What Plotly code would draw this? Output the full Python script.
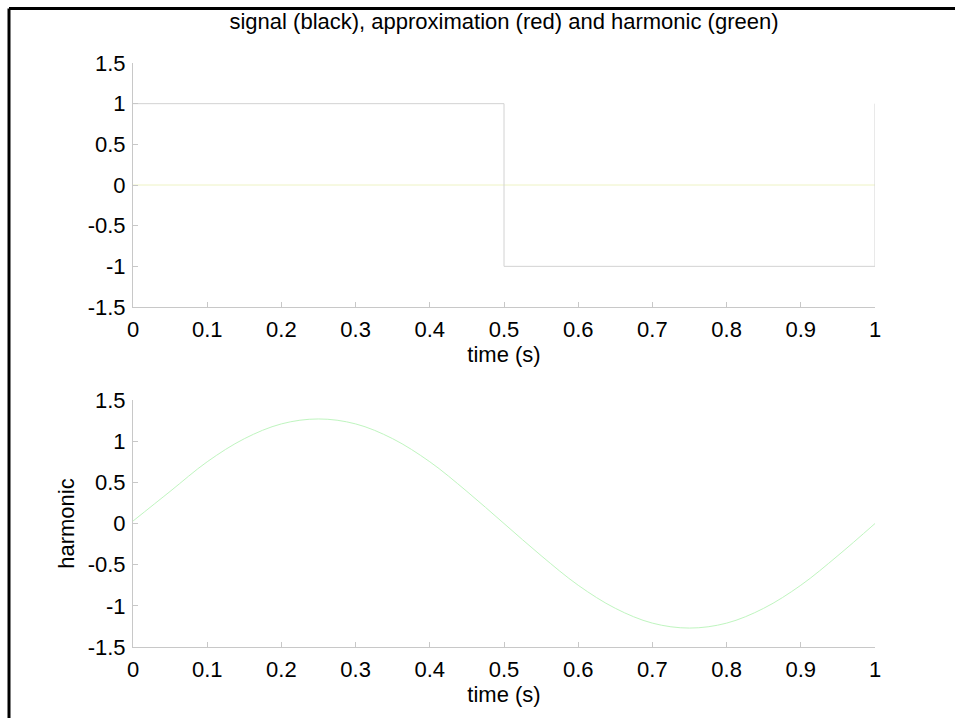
import plotly.graph_objects as go

# Top panel: signal (square wave) and zero lines
sig_t = [0.0, 0.5, 0.5, 1.0, 1.0]
sig_y = [1.0, 1.0, -1.0, -1.0, 1.0]
zero_t = [0.0, 1.0]
zero_y = [0.0, 0.0]

# Bottom panel: harmonic
harm_t = [0.0, 0.05, 0.1, 0.15, 0.2, 0.25, 0.3, 0.35, 0.4, 0.45, 0.5,
          0.55, 0.6, 0.65, 0.7, 0.75, 0.8, 0.85, 0.9, 0.95, 1.0]
harm_y = [0.03, 0.39, 0.75, 1.03, 1.21, 1.27, 1.21, 1.03, 0.75, 0.39, 0.0,
          -0.39, -0.75, -1.03, -1.21, -1.27, -1.21, -1.03, -0.75, -0.39, 0.0]

x_ticks = [0, 0.1, 0.2, 0.3, 0.4, 0.5, 0.6, 0.7, 0.8, 0.9, 1]
x_labels = ["0", "0.1", "0.2", "0.3", "0.4", "0.5", "0.6", "0.7", "0.8", "0.9", "1"]
y_ticks = [-1.5, -1, -0.5, 0, 0.5, 1, 1.5]
y_labels = ["-1.5", "-1", "-0.5", "0", "0.5", "1", "1.5"]

FONT = "Liberation Sans, Arial, Helvetica, sans-serif"
FS = 22
AX = "#c8c8c8"

fig = go.Figure()
fig.add_trace(go.Scatter(x=zero_t, y=zero_y, mode="lines",
                         line=dict(color="#eef3c4", width=1), xaxis="x", yaxis="y"))
fig.add_trace(go.Scatter(x=sig_t, y=sig_y, mode="lines",
                         line=dict(color="#d2d2d2", width=1), xaxis="x", yaxis="y"))
fig.add_trace(go.Scatter(x=harm_t, y=harm_y, mode="lines", line_shape="spline",
                         line=dict(color="#bff5bf", width=1), xaxis="x2", yaxis="y2"))

axis_common = dict(showgrid=False, zeroline=False, showline=True, linecolor=AX,
                   linewidth=1, ticks="inside", ticklen=5, tickcolor=AX,
                   tickfont=dict(family=FONT, size=FS, color="black"), mirror=False)

xcommon = dict(ticklabelstandoff=3, **axis_common)
ycommon = dict(ticklabelstandoff=2, **axis_common)

fig.update_layout(
    width=955, height=718,
    margin=dict(l=133, r=80, t=63, b=71),
    paper_bgcolor="white", plot_bgcolor="white",
    showlegend=False,
    font=dict(family=FONT, size=FS, color="black"),
    title=dict(text="signal (black), approximation (red) and harmonic (green)",
               x=0.5, xanchor="center", xref="paper", y=1 - 21 / 718, yanchor="middle",
               font=dict(family=FONT, size=FS, color="black")),
    xaxis=dict(domain=[0, 1], range=[0, 1], tickvals=x_ticks, ticktext=x_labels,
               anchor="y", title=dict(text="time (s)", standoff=3,
                                      font=dict(family=FONT, size=FS)), **xcommon),
    yaxis=dict(domain=[0.5822, 1], range=[-1.5, 1.5], tickvals=y_ticks, ticktext=y_labels,
               anchor="x", **ycommon),
    xaxis2=dict(domain=[0, 1], range=[0, 1], tickvals=x_ticks, ticktext=x_labels,
                anchor="y2", title=dict(text="time (s)", standoff=3,
                                        font=dict(family=FONT, size=FS)), **xcommon),
    yaxis2=dict(domain=[0, 0.4229], range=[-1.5, 1.5], tickvals=y_ticks, ticktext=y_labels,
                anchor="x2", title=dict(text="harmonic", standoff=6,
                                        font=dict(family=FONT, size=FS)), **ycommon),
)

# Black frame along top and left edges
fig.add_shape(type="line", xref="paper", yref="paper",
              x0=(9 - 133) / 742, x1=(955 - 133) / 742,
              y0=(647 - 8.5) / 584, y1=(647 - 8.5) / 584,
              line=dict(color="black", width=3))
fig.add_shape(type="line", xref="paper", yref="paper",
              x0=(9 - 133) / 742, x1=(9 - 133) / 742,
              y0=(647 - 8.5) / 584, y1=(647 - 720) / 584,
              line=dict(color="black", width=3))

fig.write_html("out.html")
